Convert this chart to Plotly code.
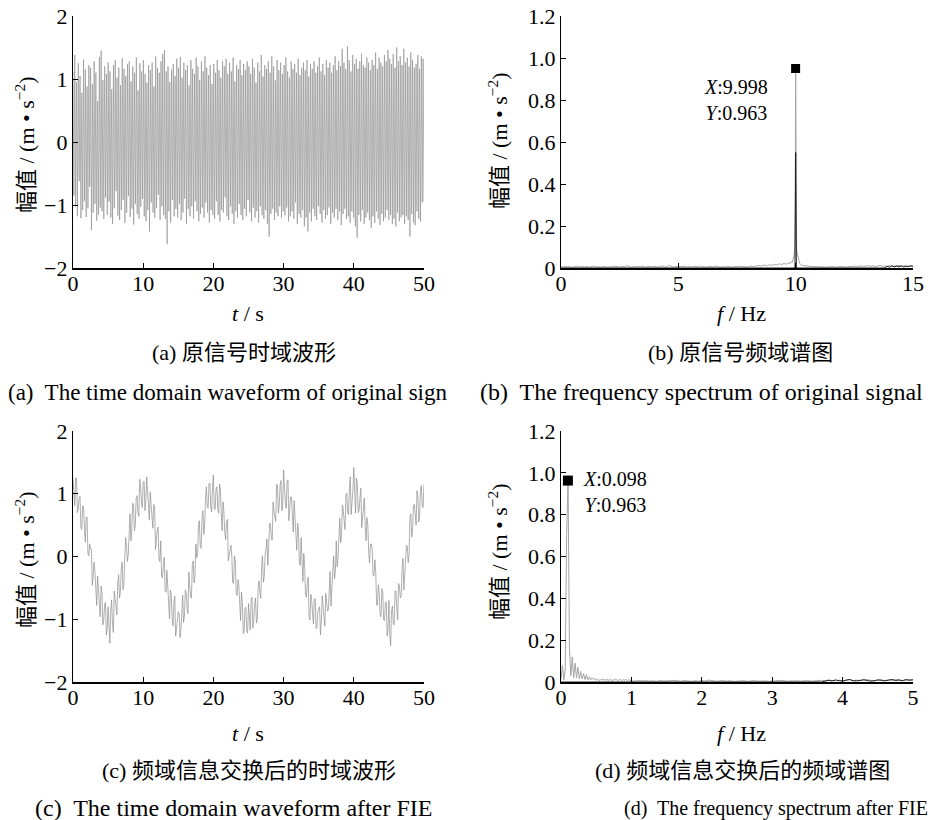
import numpy as np
import plotly.graph_objects as go

# ---------------- data ----------------
# (a) original time-domain signal, 0-50 s
sig_a = [
 1.12,-0.85,1.38,-1.02,0.95,-1.18,1.25,-0.62,1.05,-1.21,0.78,-1.08,1.31,-0.94,1.15,-1.19,0.88,-1.05,1.22,-0.71,
 1.18,-1.40,0.92,-1.12,1.28,-0.98,1.10,-1.25,0.65,-1.15,1.35,-1.04,1.45,-1.10,0.98,-1.22,1.20,-0.88,1.08,-1.16,
 1.26,-0.95,1.12,-1.20,0.84,-1.30,1.22,-1.05,1.30,-0.78,1.02,-1.17,1.18,-1.24,0.90,-1.08,1.33,-0.92,1.16,-1.28,
 1.05,-1.12,1.24,-0.86,1.28,-1.19,0.96,-1.06,1.20,-1.31,1.10,-0.98,1.34,-1.14,0.82,-1.22,1.25,-1.03,1.12,-0.90,
 1.30,-1.18,1.08,-1.26,0.94,-1.08,1.22,-1.42,1.14,-0.96,1.26,-1.12,0.88,-1.20,1.36,-1.05,1.18,-0.84,1.10,-1.24,
 1.28,-1.02,1.40,-1.16,1.46,-1.22,1.12,-1.62,1.20,-1.10,0.95,-1.28,1.15,-0.92,1.24,-1.18,1.05,-1.06,1.32,-1.20,
 1.18,-0.98,1.35,-1.24,1.02,-1.12,1.26,-0.90,1.14,-1.30,1.22,-1.06,0.90,-1.18,1.30,-1.02,1.16,-1.22,1.08,-0.94,
 1.34,-1.10,1.20,-1.26,0.98,-1.14,1.28,-1.04,1.12,-1.20,1.36,-0.96,1.18,-1.12,1.06,-1.28,1.22,-1.08,0.92,-1.16,
 1.24,-1.22,1.10,-0.94,1.30,-1.16,1.14,-1.26,1.02,-1.08,1.28,-1.12,1.20,-0.88,1.32,-1.18,1.08,-1.24,1.26,-1.02,
 1.12,-1.14,1.34,-1.30,0.96,-1.10,1.22,-1.20,1.16,-0.98,1.30,-1.16,1.06,-1.24,1.24,-1.06,1.14,-1.18,1.28,-0.92,
 1.20,-1.12,1.08,-1.26,1.32,-1.04,1.18,-1.20,0.94,-1.10,1.26,-1.28,1.12,-1.02,1.38,-1.16,1.04,-1.22,1.22,-1.08,
 1.16,-1.30,1.28,-1.50,1.10,-1.14,1.36,-1.06,1.20,-1.24,0.98,-1.12,1.30,-1.18,1.14,-1.02,1.26,-1.20,1.08,-1.10,
 1.22,-1.16,1.34,-1.04,1.12,-1.26,1.02,-1.18,1.28,-1.10,1.16,-1.22,1.24,-0.96,1.10,-1.30,1.32,-1.14,1.06,-1.20,
 1.18,-1.08,1.26,-1.34,1.14,-1.20,1.30,-1.42,1.04,-1.12,1.24,-1.26,1.16,-1.06,1.28,-1.18,1.10,-1.24,1.20,-1.02,
 1.34,-1.14,1.12,-1.28,1.24,-1.08,1.06,-1.22,1.30,-1.16,1.18,-1.04,1.26,-1.30,1.10,-1.12,1.22,-1.20,1.36,-1.06,
 1.14,-1.24,1.28,-1.10,1.20,-1.32,1.48,-1.14,1.26,-1.06,1.16,-1.22,1.52,-1.18,1.30,-1.28,1.12,-1.10,1.38,-1.20,
 1.24,-1.34,1.32,-1.52,1.16,-1.16,1.28,-1.26,1.40,-1.08,1.22,-1.30,1.18,-1.20,1.34,-1.12,1.26,-1.24,1.14,-1.36,
 1.30,-1.18,1.22,-1.28,1.42,-1.10,1.16,-1.22,1.34,-1.32,1.26,-1.14,1.20,-1.26,1.38,-1.20,1.28,-1.08,1.46,-1.24,
 1.32,-1.16,1.24,-1.30,1.40,-1.22,1.18,-1.34,1.50,-1.12,1.28,-1.26,1.36,-1.20,1.22,-1.16,1.48,-1.30,1.26,-1.18,
 1.34,-1.24,1.20,-1.50,1.42,-1.14,1.30,-1.28,1.18,-1.32,1.24,-1.10,1.38,-1.22,1.16,-1.26,1.36,-0.96,1.32,-0.94,
]

# (c) time-domain signal after FIE: samples at 0, 0.25, ... 50 s
sig_c = [
 1.25,0.81,1.25,0.77,0.96,0.43,0.79,0.23,0.63,0.01,
 0.12,-0.46,-0.09,-0.61,-0.31,-0.81,-0.47,-1.09,-0.77,-1.25,
 -0.80,-1.38,-0.69,-1.21,-0.67,-0.93,-0.29,-0.57,-0.09,-0.44,
 0.30,-0.08,0.47,0.25,0.85,0.41,0.93,0.71,1.23,0.85,
 1.18,0.73,1.27,0.75,1.03,0.55,0.83,0.11,0.43,-0.04,
 0.25,-0.34,-0.01,-0.57,-0.44,-0.99,-0.61,-1.11,-0.63,-1.14,
 -0.88,-1.29,-0.73,-1.05,-0.53,-0.81,-0.25,-0.65,-0.13,-0.42,
 0.20,0.02,0.57,0.13,0.73,0.49,1.11,0.77,1.17,0.71,
 1.30,0.75,1.11,0.69,1.07,0.41,0.71,0.27,0.59,0.02,
 0.18,-0.42,0.01,-0.59,-0.37,-0.87,-0.57,-1.23,-0.83,-1.19,
 -0.75,-1.17,-0.65,-1.01,-0.66,-0.99,-0.39,-0.67,0.01,-0.31,
 0.12,-0.14,0.53,0.29,0.87,0.61,1.15,0.69,1.13,0.73,
 1.38,0.85,1.21,0.57,0.95,0.49,0.89,0.33,0.53,-0.12,
 0.30,-0.40,-0.15,-0.65,-0.33,-1.01,-0.69,-1.07,-0.67,-1.13,
 -0.82,-1.25,-0.63,-1.03,-0.59,-0.87,-0.35,-0.79,-0.19,-0.36,
 0.25,-0.02,0.61,0.33,0.74,0.43,1.01,0.67,1.27,0.84,
 1.42,0.69,1.17,0.73,1.09,0.61,0.93,0.25,0.49,-0.10,
 0.20,-0.30,-0.05,-0.77,-0.45,-0.93,-0.51,-1.01,-0.73,-1.27,
 -0.70,-1.42,-0.79,-1.09,-0.55,-1.01,-0.47,-0.63,-0.03,-0.30,
 0.18,-0.10,0.63,0.31,0.81,0.55,1.05,0.55,1.07,0.79,
 1.15,
]
# (c) in-between samples at 0.125, 0.375, ... 49.875 s
sig_c_mid = [
 0.90,1.25,0.70,0.93,0.46,0.81,0.46,0.62,0.05,0.20,
 0.12,-0.31,-0.24,-0.78,-0.59,-0.96,-0.57,-1.02,-0.73,-1.16,
 -1.24,-0.87,-1.08,-0.55,-0.84,-0.43,-0.66,-0.20,-0.53,-0.02,
 0.16,0.03,0.68,0.42,0.83,0.50,0.97,0.64,1.13,0.78,
 1.20,0.89,1.06,0.59,0.82,0.45,0.80,0.28,0.47,-0.08,
 -0.32,-0.13,-0.54,-0.22,-0.73,-0.54,-0.99,-0.74,-1.27,-0.94,
 -0.92,-1.17,-0.62,-0.95,-0.58,-0.91,-0.40,-0.66,-0.07,-0.30,
 -0.02,0.51,0.16,0.60,0.35,0.92,0.79,1.16,0.79,1.12,
 0.76,1.07,0.76,1.15,0.68,0.87,0.38,0.56,-0.07,0.14,
 0.00,-0.43,-0.08,-0.62,-0.47,-1.02,-0.73,-1.20,-0.81,-1.22,
 -1.10,-0.69,-1.14,-0.77,-1.06,-0.49,-0.58,-0.14,-0.41,0.04,
 0.28,0.15,0.52,0.26,0.71,0.56,1.13,0.82,1.21,0.84,
 1.08,0.77,1.22,0.75,0.94,0.39,0.64,0.10,0.39,-0.14,
 -0.18,0.05,-0.60,-0.44,-0.95,-0.60,-0.91,-0.68,-1.15,-0.88,
 -0.80,-1.05,-0.78,-1.11,-0.70,-0.85,-0.24,-0.48,0.01,-0.24,
 -0.16,0.33,0.22,0.82,0.57,0.98,0.71,1.10,0.67,1.06,
 0.90,1.25,0.70,0.93,0.46,0.81,0.46,0.62,0.05,0.20,
 0.12,-0.31,-0.24,-0.78,-0.59,-0.96,-0.57,-1.02,-0.73,-1.16,
 -1.24,-0.87,-1.08,-0.55,-0.84,-0.43,-0.66,-0.20,-0.53,-0.02,
 0.16,0.03,0.68,0.42,0.83,0.50,0.97,0.64,1.13,0.78,
]

# (b) spectrum of original signal, 0-15 Hz
b_lo_amp = [  # 0.0 ... 9.7 Hz, step 0.1
 0.006,0.004,0.008,0.005,0.007,0.003,0.006,0.009,0.004,0.007,
 0.005,0.008,0.004,0.006,0.010,0.005,0.007,0.004,0.008,0.006,
 0.003,0.007,0.005,0.009,0.006,0.004,0.008,0.005,0.011,0.006,
 0.004,0.007,0.005,0.008,0.006,0.009,0.004,0.007,0.005,0.006,
 0.008,0.004,0.007,0.010,0.005,0.006,0.012,0.007,0.004,0.008,
 0.005,0.007,0.006,0.009,0.004,0.007,0.005,0.008,0.006,0.010,
 0.005,0.007,0.004,0.008,0.006,0.005,0.009,0.006,0.004,0.007,
 0.005,0.008,0.006,0.004,0.007,0.005,0.009,0.006,0.008,0.005,
 0.007,0.010,0.006,0.008,0.012,0.009,0.011,0.014,0.010,0.016,
 0.012,0.018,0.014,0.020,0.016,0.022,0.018,0.025,
]
b_pk_freq = [9.75, 9.8, 9.85, 9.9, 9.93, 9.96, 9.98, 10.0, 10.02, 10.04, 10.07, 10.1, 10.14, 10.18, 10.22, 10.26]
b_pk_amp = [0.02, 0.03, 0.025, 0.045, 0.06, 0.10, 0.27, 0.95, 0.26, 0.09, 0.07, 0.05, 0.035, 0.02, 0.015, 0.012]
b_hi_amp = [  # 10.3 ... 15.0 Hz, step 0.1
 0.012,0.010,0.008,0.009,0.007,0.006,0.008,0.005,0.007,0.006,
 0.004,0.006,0.005,0.007,0.004,0.006,0.005,0.008,0.004,0.006,
 0.005,0.007,0.009,0.006,0.008,0.010,0.007,0.009,0.011,0.008,
 0.010,0.007,0.009,0.012,0.008,0.010,0.007,0.011,0.009,0.008,
 0.010,0.012,0.009,0.011,0.008,0.010,0.012,0.009,
]
b_dark_freq = [0.0, 9.97, 10.0, 10.03, 13.8, 13.9, 14.0, 14.1, 14.2, 14.3, 14.4, 14.5, 14.6, 14.7, 14.8, 14.9, 15.0]
b_dark_amp = [0.0, 0.0, 0.55, 0.0, 0.0, 0.008, 0.004, 0.010, 0.005, 0.009, 0.006, 0.010, 0.004, 0.009, 0.006, 0.010, 0.008]
b_mark = (9.998, 0.95)

# (d) spectrum after FIE, 0-5 Hz
d_lo_amp = [  # 0.00 ... 0.98 Hz, step 0.02
 0.01,0.08,0.01,0.06,0.70,0.963,0.17,0.03,0.12,0.02,
 0.09,0.02,0.07,0.015,0.05,0.015,0.04,0.012,0.035,0.01,
 0.025,0.01,0.02,0.012,0.018,0.008,0.014,0.006,0.012,0.009,
 0.015,0.007,0.012,0.010,0.008,0.013,0.006,0.011,0.009,0.014,
 0.007,0.010,0.012,0.006,0.011,0.008,0.013,0.007,0.010,0.009,
]
d_hi_amp = [  # 1.00 ... 5.00 Hz, step 0.05
 0.006,0.004,0.008,0.005,0.007,0.004,0.006,0.003,0.007,0.005,
 0.004,0.006,0.008,0.005,0.004,0.007,0.005,0.003,0.006,0.004,
 0.007,0.005,0.009,0.006,0.004,0.005,0.007,0.004,0.006,0.003,
 0.005,0.004,0.006,0.003,0.005,0.007,0.004,0.006,0.005,0.003,
 0.004,0.006,0.005,0.008,0.004,0.005,0.003,0.006,0.004,0.005,
 0.007,0.004,0.006,0.005,0.008,0.006,0.010,0.007,0.005,0.009,
 0.006,0.008,0.011,0.007,0.009,0.006,0.010,0.012,0.008,0.006,
 0.009,0.011,0.007,0.010,0.008,0.012,0.009,0.007,0.011,0.010,
 0.012,
]
d_dark_amp = [  # 3.75 ... 5.00 Hz, step 0.05
 0.004,0.008,0.005,0.010,0.006,0.004,0.009,0.012,0.006,0.005,
 0.008,0.011,0.007,0.004,0.006,0.010,0.008,0.005,0.009,0.012,
 0.007,0.010,0.006,0.011,0.008,0.010,
]
d_mark = (0.098, 0.963)

# ---------------- build ----------------
t_a = np.linspace(0, 50, len(sig_a))
t_c_main = 0.25 * np.arange(len(sig_c))
t_c_mid = 0.125 + 0.25 * np.arange(len(sig_c_mid))
t_c_all = np.concatenate([t_c_main, t_c_mid])
y_c_all = np.concatenate([sig_c, sig_c_mid])
order = np.argsort(t_c_all, kind="stable")
t_c, y_c = t_c_all[order], y_c_all[order]

f_b = np.concatenate([0.1 * np.arange(len(b_lo_amp)), b_pk_freq, 10.3 + 0.1 * np.arange(len(b_hi_amp))])
a_b = np.concatenate([b_lo_amp, b_pk_amp, b_hi_amp])
f_d = np.concatenate([0.02 * np.arange(len(d_lo_amp)), 1.0 + 0.05 * np.arange(len(d_hi_amp))])
a_d = np.concatenate([d_lo_amp, d_hi_amp])
f_dd = np.concatenate([[0.0, 3.7], 3.75 + 0.05 * np.arange(len(d_dark_amp))])
a_dd = np.concatenate([[0.0, 0.0], d_dark_amp])

W, H = 931, 820
def px(x): return x / W
def py(y): return 1 - y / H

FONT = "Liberation Serif, Times New Roman, Noto Sans CJK SC, serif"

fig = go.Figure()
fig.add_trace(go.Scatter(x=t_a, y=sig_a, mode="lines", line=dict(color="rgb(150,150,150)", width=0.7), xaxis="x", yaxis="y"))
fig.add_trace(go.Scatter(x=f_b, y=a_b, mode="lines", line=dict(color="rgb(165,165,165)", width=1), xaxis="x2", yaxis="y2"))
fig.add_trace(go.Scatter(x=b_dark_freq, y=b_dark_amp, mode="lines", line=dict(color="rgb(30,30,30)", width=1), xaxis="x2", yaxis="y2"))
fig.add_trace(go.Scatter(x=[b_mark[0]], y=[b_mark[1]], mode="markers", marker=dict(symbol="square", size=9, color="black"), xaxis="x2", yaxis="y2"))
fig.add_trace(go.Scatter(x=t_c, y=y_c, mode="lines", line=dict(color="rgb(140,140,140)", width=0.7), xaxis="x3", yaxis="y3"))
fig.add_trace(go.Scatter(x=f_d, y=a_d, mode="lines", line=dict(color="rgb(165,165,165)", width=1), xaxis="x4", yaxis="y4"))
fig.add_trace(go.Scatter(x=f_dd, y=a_dd, mode="lines", line=dict(color="rgb(30,30,30)", width=1), xaxis="x4", yaxis="y4"))
fig.add_trace(go.Scatter(x=[d_mark[0]], y=[d_mark[1]], mode="markers", marker=dict(symbol="square", size=10, color="black"), xaxis="x4", yaxis="y4"))

def xax(dom, rng, vals, anchor):
    return dict(domain=dom, range=rng, tickvals=vals, ticktext=[str(v) for v in vals], ticks="inside", ticklen=5,
                tickwidth=1, tickcolor="black", showline=True, linecolor="black", linewidth=2, showgrid=False,
                zeroline=False, anchor=anchor, automargin=False, ticklabelstandoff=-5,
                tickfont=dict(family=FONT, size=22, color="black"), fixedrange=True)

def yax(dom, rng, vals, text, anchor):
    return dict(domain=dom, range=rng, tickvals=vals, ticktext=text, ticks="inside", ticklen=5,
                tickwidth=1, tickcolor="black", showline=True, linecolor="black", linewidth=1.3, showgrid=False,
                zeroline=False, anchor=anchor, automargin=False,
                tickfont=dict(family=FONT, size=22, color="black"), fixedrange=True)

XL = [px(73), px(424)]
XR = [px(561), px(913)]
YT = [py(268), py(16)]
YB = [py(682), py(431)]
ty = [-2, -1, 0, 1, 2]
tyt = ["\u22122", "\u22121", "0", "1", "2"]
sy = [0, 0.2, 0.4, 0.6, 0.8, 1.0, 1.2]
syt = ["0", "0.2", "0.4", "0.6", "0.8", "1.0", "1.2"]

fig.update_layout(
    template="none",
    width=W, height=H, margin=dict(l=0, r=0, t=0, b=0, autoexpand=False), showlegend=False,
    plot_bgcolor="white", paper_bgcolor="white",
    xaxis=xax(XL, [0, 50], [0, 10, 20, 30, 40, 50], "y"),
    yaxis=yax(YT, [-2, 2], ty, tyt, "x"),
    xaxis2=xax(XR, [0, 15], [0, 5, 10, 15], "y2"),
    yaxis2=yax(YT, [0, 1.2], sy, syt, "x2"),
    xaxis3=xax(XL, [0, 50], [0, 10, 20, 30, 40, 50], "y3"),
    yaxis3=yax(YB, [-2, 2], ty, tyt, "x3"),
    xaxis4=xax(XR, [0, 5], [0, 1, 2, 3, 4, 5], "y4"),
    yaxis4=yax(YB, [0, 1.2], sy, syt, "x4"),
)

YTITLE = "幅值 / (m • s<sup>\u22122</sup>)"
ann = []
def text(x, y, s, size=22, xanchor="center", angle=0):
    ann.append(dict(x=px(x), y=py(y), xref="paper", yref="paper", text=s, showarrow=False,
                    xanchor=xanchor, yanchor="middle", textangle=angle,
                    font=dict(family=FONT, size=size, color="black")))

text(25, 145, YTITLE, angle=-90)
text(498, 141, YTITLE, angle=-90)
text(25, 560, YTITLE, angle=-90)
text(498, 552, YTITLE, angle=-90)

text(702, 100, "<i>X</i>:9.998<br><i>Y</i>:0.963", size=20, xanchor="left")
text(581, 492, "<i>X</i>:0.098<br><i>Y</i>:0.963", size=20, xanchor="left")

text(248, 313, "<i>t</i> / s")
text(741, 313, "<i>f</i> / Hz")
text(248, 733, "<i>t</i> / s")
text(741, 733, "<i>f</i> / Hz")

text(244, 353, "(a) 原信号时域波形")
text(740, 353, "(b) 原信号频域谱图")
text(249, 770, "(c) 频域信息交换后的时域波形")
text(742, 770, "(d) 频域信息交换后的频域谱图")

text(228, 392, "(a)\u00a0 The time domain waveform of original sign", size=23)
text(701, 392, "(b)\u00a0 The frequency spectrum of original signal", size=24)
text(234, 808, "(c)\u00a0 The time domain waveform after FIE", size=24)
text(776, 808, "(d)\u00a0 The frequency spectrum after FIE", size=20)

fig.update_layout(annotations=ann)
fig.write_html("out.html")
